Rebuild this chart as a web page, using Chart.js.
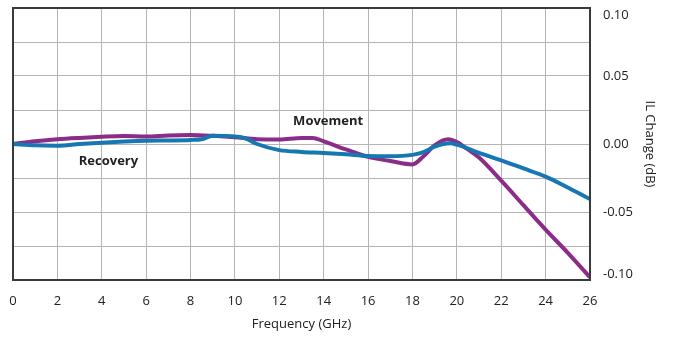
<!DOCTYPE html>
<html>
<head>
<meta charset="utf-8">
<script src="https://cdn.jsdelivr.net/npm/chart.js@4"></script>
<style>
  html, body { margin: 0; padding: 0; background: #ffffff; }
  #wrap { width: 678px; height: 339px; }
</style>
</head>
<body>
<div id="wrap"><canvas id="c" width="678" height="339"></canvas></div>
<script>
// Frequency (GHz) and IL change (dB)
const movementFreq = [0, 1, 2, 3, 4, 5, 6, 7, 8, 9, 10, 11, 12, 13, 13.5, 14, 15, 16, 17, 18, 18.5, 19, 19.6, 20, 20.5, 21, 22, 23, 24, 25, 26];
const movementIL   = [0.000, 0.002, 0.0035, 0.0045, 0.0053, 0.0058, 0.0055, 0.0063, 0.0066, 0.006, 0.005, 0.0035, 0.0033, 0.0045, 0.0045, 0.002, -0.004, -0.0095, -0.0125, -0.015, -0.009, -0.001, 0.0035, 0.0015, -0.004, -0.010, -0.027, -0.045, -0.063, -0.080, -0.098];

const recoveryFreq = [0, 1, 2, 3, 4, 5, 6, 7, 8, 8.5, 9, 10, 10.5, 11, 12, 13, 14, 15, 16, 17, 18, 18.5, 19, 19.7, 20, 21, 22, 23, 24, 25, 26];
const recoveryIL   = [0.000, -0.001, -0.0012, 0.000, 0.001, 0.0018, 0.0024, 0.0026, 0.003, 0.0035, 0.006, 0.0055, 0.004, 0.000, -0.0045, -0.0058, -0.0066, -0.0076, -0.0088, -0.009, -0.008, -0.006, -0.002, 0.0005, -0.0005, -0.0065, -0.012, -0.018, -0.024, -0.032, -0.0405];

const xTicks = [0, 2, 4, 6, 8, 10, 12, 14, 16, 18, 20, 22, 24, 26];
const yLabelTicks = [-0.10, -0.05, 0.00, 0.05, 0.10];

const seriesNames = ['Recovery', 'Movement'];
const annoFreq = [4.3, 14.2];
const annoIL = [-0.0125, 0.017];

const toPts = (xs, ys) => xs.map((x, i) => ({ x: x, y: ys[i] }));

const FONT = "'Open Sans', 'DejaVu Sans', sans-serif";
const TEXT = '#222222';
const FRAME = '#3a3a3a';
const GRID = '#b4b4b4';

const frameAndLabels = {
  id: 'frameAndLabels',
  beforeDraw(chart) {
    const ys = chart.scales.y;
    const items = ys.getLabelItems();
    items.forEach(it => {
      if (it._adj) return;
      if (it.label === '0.10') it.options.translation[1] += 7;
      if (it.label === '-0.10') it.options.translation[1] -= 6;
      it._adj = true;
    });
  },
  afterDraw(chart) {
    const { ctx, chartArea: a, scales } = chart;
    ctx.save();
    ctx.strokeStyle = FRAME;
    ctx.lineWidth = 2;
    ctx.strokeRect(a.left, a.top, a.right - a.left, a.bottom - a.top);
    ctx.fillStyle = TEXT;
    ctx.font = "bold 13px " + FONT;
    ctx.textAlign = 'center';
    ctx.textBaseline = 'middle';
    seriesNames.forEach((n, i) => {
      ctx.fillText(n, scales.x.getPixelForValue(annoFreq[i]), scales.y.getPixelForValue(annoIL[i]));
    });
    ctx.restore();
  }
};

new Chart(document.getElementById('c'), {
  type: 'line',
  data: {
    datasets: [
      {
        label: seriesNames[0],
        data: toPts(recoveryFreq, recoveryIL),
        borderColor: '#1677b3',
        borderWidth: 4,
        pointRadius: 0,
        cubicInterpolationMode: 'monotone',
        fill: false
      },
      {
        label: seriesNames[1],
        data: toPts(movementFreq, movementIL),
        borderColor: '#8b2c88',
        borderWidth: 4,
        pointRadius: 0,
        cubicInterpolationMode: 'monotone',
        fill: false
      }
    ]
  },
  options: {
    responsive: false,
    animation: false,
    devicePixelRatio: 1,
    layout: { padding: { left: 13, top: 8, right: 0, bottom: 0 } },
    plugins: { legend: { display: false }, tooltip: { enabled: false } },
    scales: {
      x: {
        type: 'linear',
        min: 0,
        max: 26,
        afterBuildTicks: (s) => { s.ticks = xTicks.map(v => ({ value: v })); },
        afterFit: (s) => { s.height = 59; s.paddingLeft = 0; s.paddingRight = 0; },
        grid: { color: GRID, lineWidth: 1, drawTicks: false },
        border: { display: true, color: FRAME, width: 2 },
        ticks: {
          padding: 13,
          color: TEXT,
          font: { family: FONT, size: 13 },
          maxRotation: 0,
          callback: (v) => String(v)
        },
        title: {
          display: true,
          text: 'Frequency (GHz)',
          color: TEXT,
          font: { family: FONT, size: 13 },
          padding: { top: 0, bottom: 7 }
        }
      },
      y: {
        type: 'linear',
        position: 'right',
        min: -0.1,
        max: 0.1,
        afterBuildTicks: (s) => {
          const t = [];
          for (let i = 0; i < yLabelTicks.length; i++) {
            t.push({ value: yLabelTicks[i] });
            if (i < yLabelTicks.length - 1) t.push({ value: (yLabelTicks[i] + yLabelTicks[i + 1]) / 2, minor: true });
          }
          s.ticks = t;
        },
        afterFit: (s) => { s.width = 88; s.paddingTop = 0; s.paddingBottom = 0; },
        grid: { color: GRID, lineWidth: 1, drawTicks: false },
        border: { display: true, color: FRAME, width: 2 },
        ticks: {
          padding: 13,
          color: TEXT,
          font: { family: FONT, size: 13 },
          callback: (v) => {
            const isMajor = yLabelTicks.some(t => Math.abs(t - v) < 1e-9);
            return isMajor ? v.toFixed(2) : '';
          }
        },
        title: {
          display: true,
          text: 'IL Change (dB)',
          color: TEXT,
          font: { family: FONT, size: 13 },
          padding: { top: 20, bottom: 0 }
        }
      }
    }
  },
  plugins: [frameAndLabels]
});
</script>
</body>
</html>
